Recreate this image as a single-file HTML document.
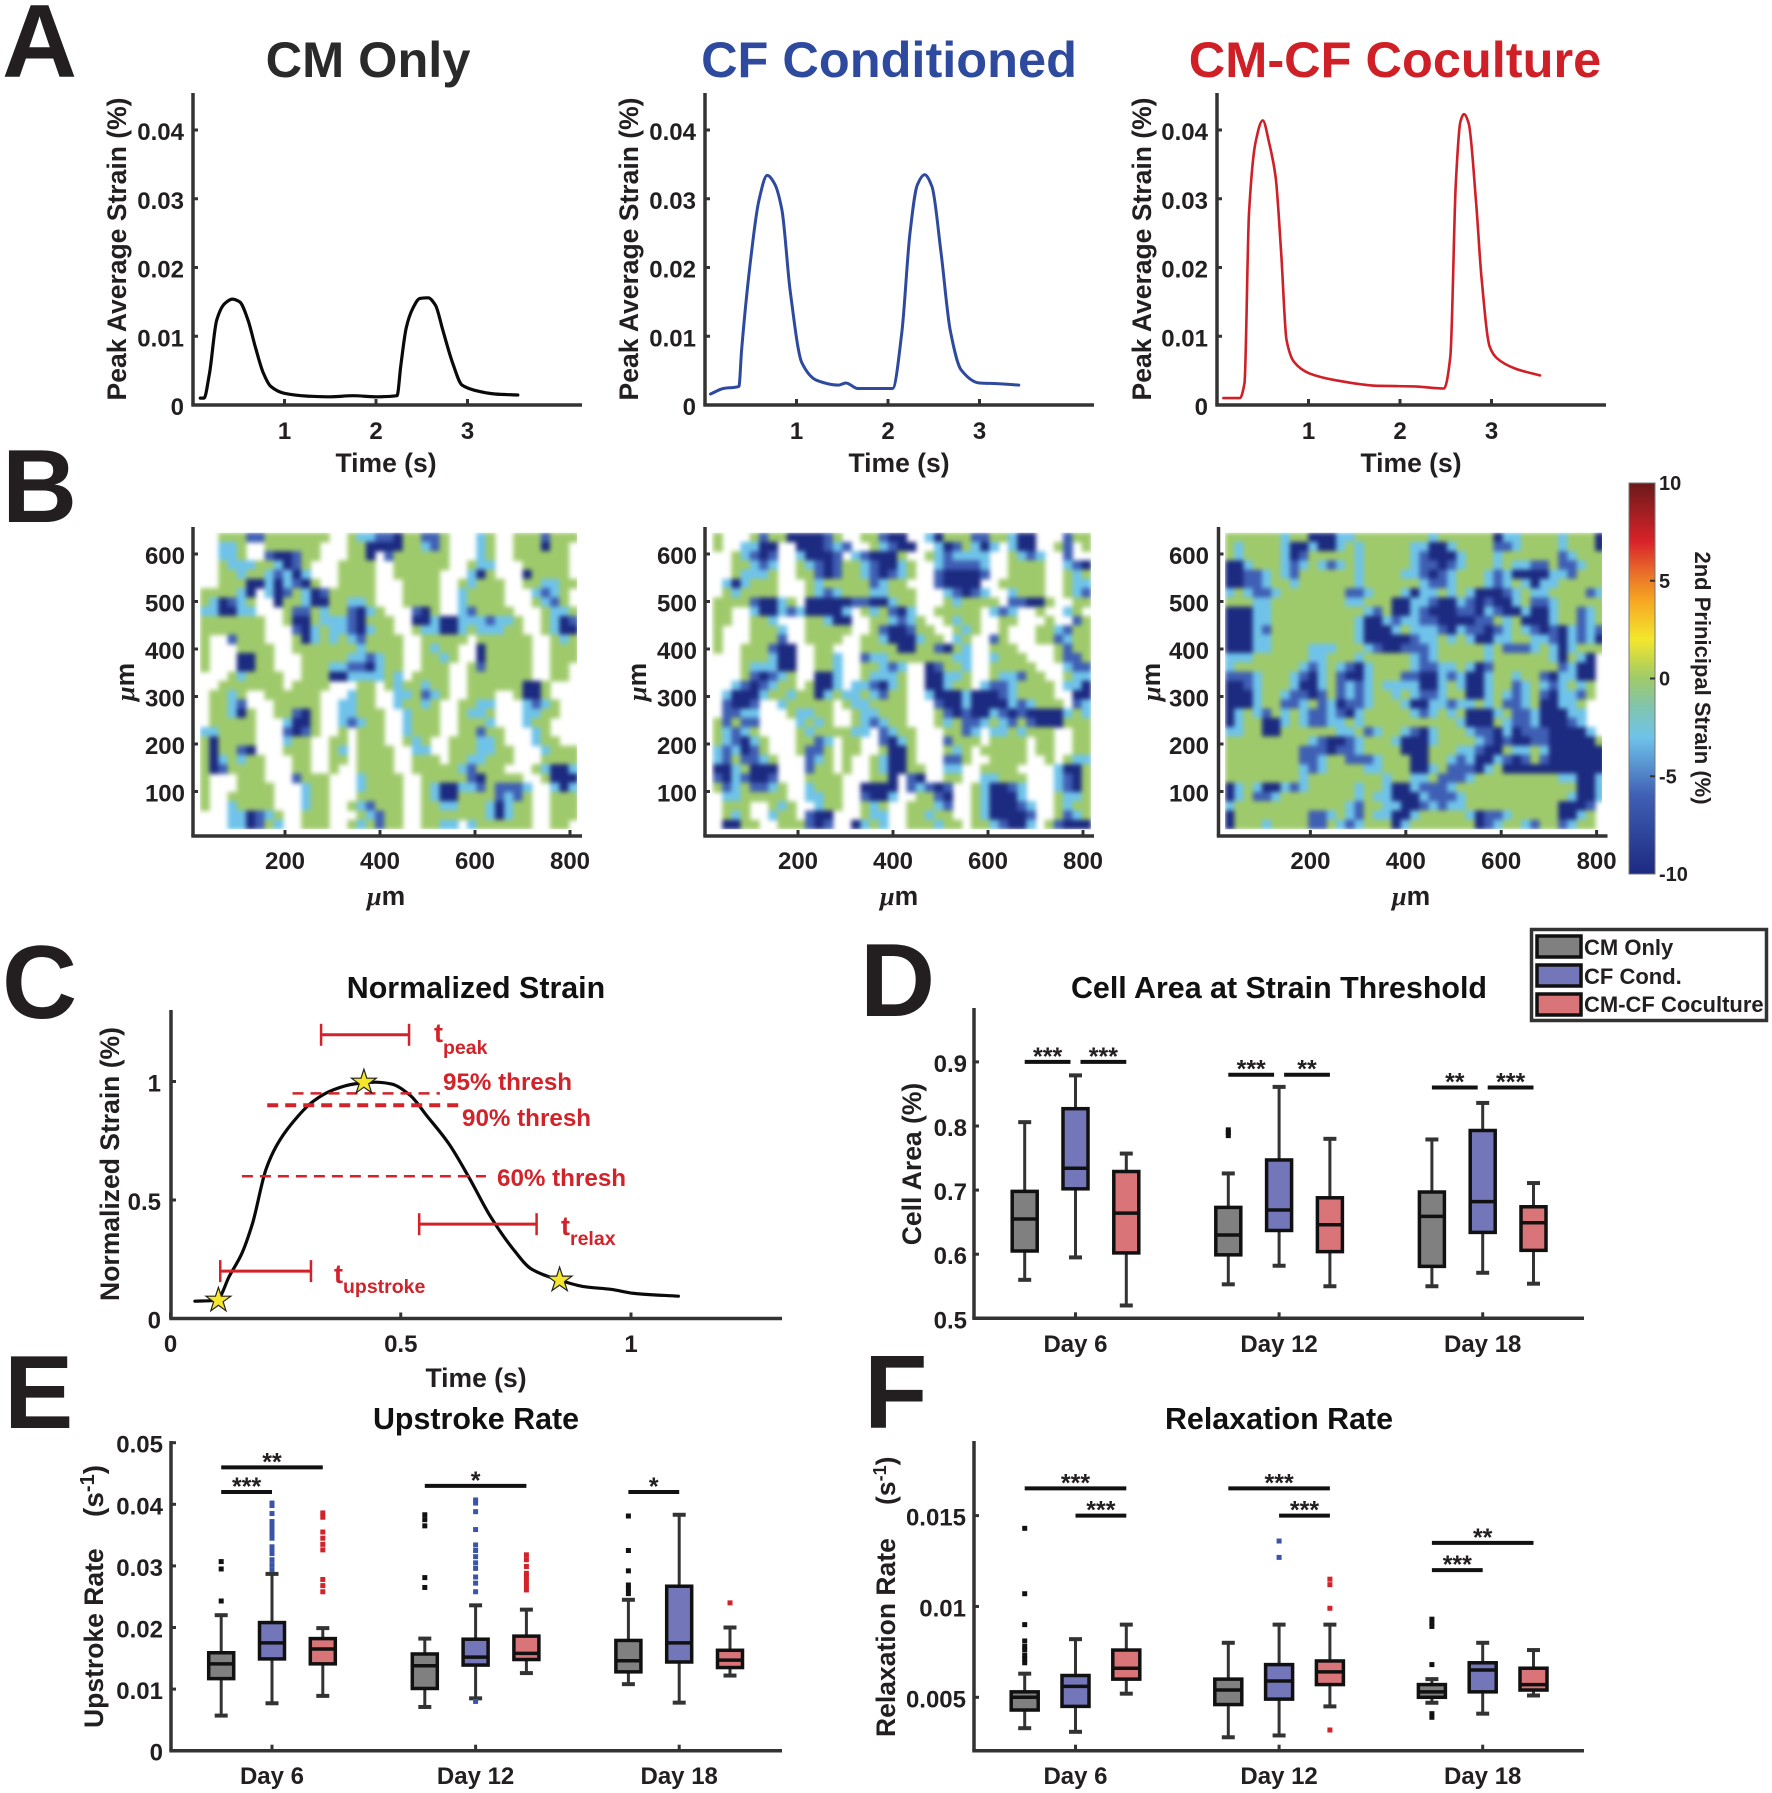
<!DOCTYPE html>
<html lang="en">
<head>
<meta charset="utf-8">
<title>Strain figure panels</title>
<style>
html,body{margin:0;padding:0;background:#fff}
svg{display:block}
text{font-family:"Liberation Sans",sans-serif;font-weight:bold;fill:#231f20}
.letter{font-size:104px}
.title{font-size:50.5px}
.sub{font-size:30.4px;fill:#111}
.axt{font-size:26.5px}
.red{fill:#d2232a;font-size:24.2px}
.redt{fill:#d2232a;font-size:27px}
.redsub{fill:#d2232a;font-size:19.5px}
.mu{font-family:"Liberation Serif",serif;font-style:italic}
</style>
</head>
<body>
<svg id="fig" xmlns="http://www.w3.org/2000/svg" width="1772" height="1793" viewBox="0 0 1772 1793">
<defs>
<linearGradient id="cbGrad" x1="0" y1="1" x2="0" y2="0"></linearGradient>
<filter id="soft" x="-3%" y="-3%" width="106%" height="106%" color-interpolation-filters="sRGB"><feGaussianBlur stdDeviation="2.3"/></filter>
<clipPath id="clipB1"><rect x="200" y="532.7" width="377" height="296.5"/></clipPath>
<clipPath id="clipB2"><rect x="711.5" y="532.7" width="379.5" height="296.5"/></clipPath>
<clipPath id="clipB3"><rect x="1225" y="532.7" width="377" height="296.5"/></clipPath>
</defs>
<rect width="1772" height="1793" fill="#fff"/>

<text class="letter" x="2" y="77">A</text>
<text class="letter" x="2" y="522">B</text>
<text class="letter" x="2" y="1018">C</text>
<text class="letter" x="860" y="1016">D</text>
<text class="letter" x="4" y="1428">E</text>
<text class="letter" x="864" y="1428">F</text>

<text class="title" x="368" y="77" text-anchor="middle" style="fill:#2a2a2a">CM Only</text>
<text class="title" x="889" y="77" text-anchor="middle" style="fill:#2e4a9e">CF Conditioned</text>
<text class="title" x="1395" y="77" text-anchor="middle" style="fill:#cf2027">CM-CF Coculture</text>

<text class="axt" transform="translate(126,249) rotate(-90)" text-anchor="middle">Peak Average Strain (%)</text>
<text class="axt" transform="translate(638,249) rotate(-90)" text-anchor="middle">Peak Average Strain (%)</text>
<text class="axt" transform="translate(1151,249) rotate(-90)" text-anchor="middle">Peak Average Strain (%)</text>
<text class="axt" x="386" y="472" text-anchor="middle">Time (s)</text>
<text class="axt" x="899" y="472" text-anchor="middle">Time (s)</text>
<text class="axt" x="1411" y="472" text-anchor="middle">Time (s)</text>

<text class="axt" transform="translate(134,682) rotate(-90)" text-anchor="middle"><tspan class="mu">μ</tspan>m</text>
<text class="axt" transform="translate(646,682) rotate(-90)" text-anchor="middle"><tspan class="mu">μ</tspan>m</text>
<text class="axt" transform="translate(1160,682) rotate(-90)" text-anchor="middle"><tspan class="mu">μ</tspan>m</text>
<text class="axt" x="386" y="905" text-anchor="middle"><tspan class="mu">μ</tspan>m</text>
<text class="axt" x="899" y="905" text-anchor="middle"><tspan class="mu">μ</tspan>m</text>
<text class="axt" x="1411" y="905" text-anchor="middle"><tspan class="mu">μ</tspan>m</text>
<text transform="translate(1695,678) rotate(90)" text-anchor="middle" style="font-size:22px">2nd Prinicipal Strain (%)</text>

<text class="sub" x="476" y="998" text-anchor="middle">Normalized Strain</text>
<text class="axt" transform="translate(119,1164) rotate(-90)" text-anchor="middle">Normalized Strain (%)</text>
<text class="axt" x="476" y="1387" text-anchor="middle">Time (s)</text>
<text class="red" x="443" y="1090">95% thresh</text>
<text class="red" x="462" y="1126">90% thresh</text>
<text class="red" x="497" y="1186">60% thresh</text>
<text class="redt" x="434" y="1042">t<tspan class="redsub" dy="12">peak</tspan></text>
<text class="redt" x="561" y="1235">t<tspan class="redsub" dy="10">relax</tspan></text>
<text class="redt" x="334" y="1283">t<tspan class="redsub" dy="10">upstroke</tspan></text>

<text class="sub" x="1279" y="998" text-anchor="middle">Cell Area at Strain Threshold</text>
<text class="axt" transform="translate(921,1164) rotate(-90)" text-anchor="middle">Cell Area (%)</text>

<text class="sub" x="476" y="1429" text-anchor="middle">Upstroke Rate</text>
<text class="axt" transform="translate(103,1728) rotate(-90)">Upstroke Rate</text>
<text class="axt" transform="translate(103,1517) rotate(-90)" style="font-size:28px">(s<tspan dy="-9" style="font-size:20px">-1</tspan><tspan dy="9">)</tspan></text>

<text class="sub" x="1279" y="1429" text-anchor="middle">Relaxation Rate</text>
<text class="axt" transform="translate(895,1737) rotate(-90)">Relaxation Rate</text>
<text class="axt" transform="translate(895,1505) rotate(-90)">(s<tspan dy="-9" style="font-size:18px">-1</tspan><tspan dy="9">)</tspan></text>

<g>
<rect x="1531.5" y="929.5" width="235" height="91" fill="#fff" stroke="#333" stroke-width="3.5"/>
<rect x="1537" y="936" width="44" height="21" fill="#808080" stroke="#111" stroke-width="3.5"/>
<rect x="1537" y="965" width="44" height="21" fill="#7376b8" stroke="#111" stroke-width="3.5"/>
<rect x="1537" y="994" width="44" height="21" fill="#d97578" stroke="#111" stroke-width="3.5"/>
<text x="1584" y="955" style="font-size:22px">CM Only</text>
<text x="1584" y="984" style="font-size:22px">CF Cond.</text>
<text x="1584" y="1012" style="font-size:22px">CM-CF Coculture</text>
</g>
<g id="plots"></g>
</svg>

<script>
/* ---------- Panel A data ---------- */
const a1Time=[.08,.12,.18,.26,.35,.43,.51,.60,.68,.77,.85,1,1.25,1.5,1.75,2,2.23,2.27,2.33,2.4,2.48,2.57,2.65,2.73,2.84,2.94,3.09,3.3,3.55];
const a1Strain=[.001,.001,.0046,.0124,.0148,.0154,.015,.0124,.0085,.0046,.0027,.0017,.0013,.0012,.00135,.0012,.00135,.0056,.0112,.014,.0155,.0156,.0145,.0109,.006,.0029,.0021,.0016,.00145];
const a2Time=[.06,.2,.37,.4,.49,.59,.68,.76,.84,.93,1.06,1.22,1.46,1.54,1.67,1.83,2.05,2.15,2.24,2.32,2.4,2.48,2.58,2.68,2.8,3,3.21,3.43];
const a2Strain=[.0016,.0024,.0027,.008,.0201,.0298,.0334,.0322,.0284,.0167,.0061,.0036,.0029,.0032,.0024,.0024,.0024,.0104,.025,.032,.0335,.0318,.0221,.0109,.0051,.0032,.0031,.0029];
const a3Time=[.07,.25,.3,.35,.42,.5,.57,.64,.7,.76,.84,1.01,1.3,1.75,2.16,2.48,2.55,2.61,2.66,2.7,2.75,2.83,2.89,2.98,3.06,3.26,3.53];
const a3Strain=[.001,.001,.0032,.0279,.0381,.0414,.0381,.0332,.0225,.0095,.0063,.0046,.0036,.0028,.0027,.0024,.007,.0322,.0412,.0423,.041,.0298,.0187,.0085,.0068,.0053,.0043];
const aYTicks=[0,.01,.02,.03,.04];
const aYLabels=['0','0.01','0.02','0.03','0.04'];
const aXTicks=[1,2,3];

/* ---------- Panel B data: rows top to bottom; . = no data, g = 0, l = -3, b = -6, d = -10 ---------- */
const cellLevels={g:0,l:-3,b:-6,d:-10};
const bXTicks=[200,400,600,800];
const bYTicks=[100,200,300,400,500,600];
const heatCM=[
"..gggbbggggggg..gllbbdggbbg...lg..gggbggg",
"..llg..gggggg...ggddddgglbg...lg..gggdgg.",
"..llg..bddbgg...ggd.bgggggg...lg..gggggg.",
"..glllggldbg...gggg..gggggg..gll...ggggg.",
"..gglgglbldl...gggg..ggggg...ldg...dgggg.",
"..gggddldlbdg..gggg...gggg..glggg..ggllgg",
"ggggld.ldbgldbggggg...gggg..lgggg...lblg.",
"gldblg..dgglddggllg...gggg..lgggg...glbg.",
"llddll...gbbglggbdlg...bdg..lbgggg...gllg",
"ggggggg..gddglllbdggg..ddlddlllbllg..gldb",
"ggggggg...bdlgllbdlgg..gllddlglllgg..gldd",
"g..bggg...gdlglglbgggg..ggggg.gggggg..glg",
"g...gggg..ggggggglgggg..glgg..dggggg..ggg",
"g...ddgg...gggggllblgg..gglg..dggggg..ggg",
"g...ddgg...gggllbbdlgg..ggg..gbggggg..gg.",
"...glgggg..gggddllllgl.gggg..ggggggg..gg.",
"..ggggggg.gggg...gg.glgglgg..ggggggddg...",
".gglg..gggggg...lgg..llgblg..ggg..gddg...",
".gglb...ggggg..llgg..lgglg..ggll...lblg..",
".ggldg..ggbdg..llggg..lggg..gllg...llgg..",
".ggggg...lddg..lblgg..lggg..gggl...lgg...",
"llgggg...bdbg..g.ggg..lggg..ggbgg...lg...",
"gdgggg...lgg..gg.ggg..glg..gggllg...lgg..",
"gdggbd...ggg..gl.gggg..ll..gggllgg...lggg",
"gdlglgg...gg..gg.gggg..ggg.ggllggg...gggg",
"gdbgggg...gg..g..gggg..ggggglbggg...glddl",
"g...ggg...bggg...lgggg..gggggbdgggg..gddd",
"g...gggg...lgg...lgggg..glddllbgbbbl..ldl",
"g..ggggg...lgg...ggggg..glddggggblbg..ggg",
"g..lgggg...lgg..glbggg..ggllgggldlgg..ggg",
"...lldblg..ggg...glbgg..gggggggldlgg..ggg",
"...lldbgl..ggg..glgbgg..ggll.lgggggg..gg."];
const heatCF=[
"g...gbggddddbg..ggbdd..ldgggbbggldd...bgg",
"g..lldd..dddblb..glbdd..ldbgldl.ldd..gb.g",
"..glbdb..ldddb.lbdddg..glbllll..glbl..b..",
"..gglbl..glbdbgglbddlg..lbbbbl..gggg..lbd",
"..glllg..ggbdbgglbdblg..bddddb..gggg..glg",
".ldlggg...glgggggblgg...bdddd..ggggg..gll",
".glgggg...glblgggllggg...lbdbl..lggg..glb",
"ggggbddlg.dddddbbddlgg...glgggg.bbddg..gg",
"gg..lddlblddddl.glgbdl..ggggg.lbl..g..lg",
"gg..ggl...ggldd..gglblg..glgg..gg...g..bg",
"g...gggl..ggggg..gbddbgg..glg..g...gglbgg",
"g...gggb..gggg..ggldddlgg.lg..bg...ggblgg",
"g..gggbdd..gg...ggggddggbdgl..ggg....gbgg",
"...gggldd..ggl..bllgggggggll..lggg...gbbg",
"...gllldd..ggl..gglbl..dbggl..ggggg...lbb",
"...gbdblg..ddl..glllg..ddllg..gllbgg..gll",
"..lbdblgg.gddl.llbdlg..ddlgg.lbblgggg.lld",
".ldddlgglggdlgllglbgg..ldddldddblgggg..dd",
".bddb..lggggg.gllgggg...bddlddddlblggg.bl",
".bbll...gllgg..gllggg...gbdbddlbdbddddlgl",
"gbgbb....lglg..glblgg...glgbblglbgbdddggg",
"glblg....glggggll.blgg...ggbl.llglggg..gg",
"glbdlg...ggbl.gg..bdlg...bggg.gggg.gg..gg",
"lbldbg...gbbg.gg..gddg...glg.ggggg.gg..gg",
"lbgbblg...blg.g..glddg...bbg..gggg..g.gll",
"ddlgddd...bgg.g..glddgg..ll..gggg....lddg",
"bdlbddb...gggg...ggd.bd..gg..llggg...lbdg",
"gblgbblg..lggg..dddd.blbdb..glddbl...lbdg",
".llggggg..llgg..bddl..ggbd..gldddl...gllg",
".ggg..glg..lgg..glg..ggglb..gldddbl..glgg",
".glg..lgg.bdd...gll..gglgg..glddddb..gblg",
".ddgg..gggbdb..dlgl..ggglgg.gglbddl.gbddd"];
const heatCo=[
"gggggglggdddll"+"gggggggg"+"l"+"gggggg"+"d"+"ll"+"gggg"+"l"+"ggg"+"d",
"glgggg"+"l"+"dd"+"l"+"dd"+"l"+"g"+"l"+"ggggg"+"ll"+"dd"+"l"+"gggg"+"bb"+"l"+"gggg"+"l"+"ggg"+"d",
"glgggg"+"l"+"db"+"ggggg"+"l"+"ggggg"+"l"+"b"+"ddd"+"l"+"ggg"+"l"+"gg"+"gggg"+"b"+"l"+"ggg",
"dd"+"l"+"ggg"+"l"+"b"+"l"+"g"+"l"+"b"+"l"+"g"+"l"+"ggggg"+"l"+"bb"+"d"+"b"+"l"+"ggg"+"l"+"g"+"ll"+"bb"+"g"+"bb"+"l"+"gg",
"dd"+"bb"+"l"+"g"+"l"+"b"+"ggggg"+"g"+"l"+"gggg"+"ll"+"b"+"d"+"b"+"l"+"ggg"+"l"+"b"+"l"+"dddd"+"l"+"l"+"b"+"ggg",
"dd"+"bb"+"l"+"gg"+"l"+"gggggg"+"l"+"gggggg"+"l"+"bb"+"l"+"ggg"+"l"+"b"+"l"+"g"+"l"+"d"+"l"+"l"+"ggggg",
"lg"+"l"+"bb"+"l"+"ggggggg"+"bb"+"l"+"ggg"+"l"+"d"+"ll"+"g"+"l"+"g"+"l"+"ddd"+"b"+"l"+"g"+"ll"+"gggg"+"b"+"l",
"ggg"+"ll"+"gggggggg"+"ll"+"ggg"+"dd"+"ll"+"b"+"dd"+"l"+"b"+"d"+"b"+"dd"+"l"+"g"+"bb"+"l"+"ggggg",
"ddd"+"ll"+"gggggggggg"+"l"+"b"+"g"+"dd"+"l"+"b"+"ddd"+"bb"+"d"+"l"+"b"+"dd"+"l"+"dd"+"l"+"gg"+"b"+"l"+"g",
"ddd"+"ll"+"ggggggggg"+"l"+"dd"+"l"+"b"+"ll"+"bb"+"dddd"+"bb"+"g"+"l"+"g"+"ddd"+"l"+"gg"+"b"+"l"+"g",
"ddd"+"l"+"b"+"ggggggggg"+"l"+"ddd"+"l"+"g"+"lll"+"b"+"d"+"l"+"bb"+"d"+"b"+"l"+"g"+"l"+"b"+"d"+"b"+"d"+"l"+"b"+"l"+"b",
"ddd"+"ll"+"ggggggggg"+"l"+"ddddd"+"b"+"ll"+"g"+"l"+"g"+"l"+"dd"+"ll"+"gg"+"ll"+"b"+"d"+"l"+"b"+"l"+"d",
"ddd"+"ll"+"gggg"+"lll"+"ggg"+"l"+"b"+"dd"+"bbb"+"l"+"ggggg"+"l"+"g"+"bbb"+"l"+"g"+"l"+"d"+"l"+"ggg",
"lll"+"gggggg"+"ll"+"ggg"+"l"+"ggggg"+"l"+"b"+"l"+"ggggg"+"l"+"gggggg"+"l"+"d"+"g"+"l"+"d"+".",
"lg"+"gggggg"+"l"+"b"+"l"+"g"+"l"+"b"+"d"+"l"+"gggg"+"l"+"bb"+"ll"+"g"+"l"+"d"+"b"+"ggggggg"+"b"+"l"+"dd"+".",
"bbb"+"l"+"ggg"+"l"+"b"+"d"+"l"+"g"+"b"+"dd"+"l"+"ggg"+"bb"+"dd"+"l"+"b"+"l"+"dd"+"l"+"gg"+"l"+"gg"+"b"+"d"+"ll"+"dd"+".",
"ddb"+"l"+"ggg"+"l"+"dd"+"l"+"g"+"b"+"l"+"b"+"l"+"g"+"llll"+"dd"+"l"+"g"+"l"+"dd"+"l"+"gg"+"b"+"l"+"g"+"l"+"b"+"l"+"g"+"l"+"g"+".",
"ddd"+"l"+"gg"+"l"+"bb"+"d"+"b"+"g"+"b"+"l"+"b"+"l"+"gg"+"l"+"g"+"l"+"bb"+"l"+"gg"+"dd"+"l"+"g"+"l"+"b"+"l"+"g"+"b"+"d"+"ll"+"b"+"g"+".",
"ddd"+"l"+"gg"+"bb"+"l"+"g"+"b"+"l"+"d"+"bb"+"l"+"ggg"+"l"+"dd"+"ll"+"b"+"ll"+"g"+"l"+"g"+"bb"+"l"+"g"+"dd"+"ll"+"g"+"..",
"dlglbglgl"+"bb"+"l"+"b"+"d"+"l"+"ggggg"+"l"+"b"+"l"+"g"+"l"+"g"+"ddd"+"l"+"g"+"bb"+"l"+"ddd"+"ll"+"..",
"dl"+"gg"+"dd"+"l"+"g"+"l"+"bb"+"ll"+"g"+"l"+"gggggggggg"+"l"+"ddd"+"g"+"l"+"bb"+"l"+"ddd"+"b"+"l"+"..",
"ll"+"gg"+"dd"+"gggggg"+"ll"+"g"+"b"+"l"+"gg"+"l"+"b"+"d"+"l"+"ggg"+"l"+"bb"+"d"+"l"+"d"+"bbb"+"dddd"+"l"+".",
"ggggggggg"+"l"+"b"+"dd"+"b"+"l"+"ggg"+"l"+"ddd"+"l"+"gggg"+"l"+"b"+"d"+"b"+"dd"+"bb"+"d"+"dddd"+"g",
"gggggggg"+"bbb"+"d"+"bb"+"l"+"gggg"+"ddd"+"ggg"+"ll"+"b"+"dd"+"g"+"ll"+"g"+"l"+"dddddd",
"gggggggg"+"bb"+"l"+"gg"+"bbb"+"l"+"ggg"+"dd"+"gg"+"l"+"b"+"l"+"dd"+"l"+"b"+"d"+"b"+"g"+"b"+"dddddd",
"gggggggg"+"l"+"b"+"l"+"gggg"+"ll"+"ggg"+"dd"+"l"+"g"+"bb"+"b"+"d"+"l"+"g"+"ddddddddddd",
"gggggggg"+"l"+"gggggggg"+"l"+"gg"+"ll"+"g"+"bb"+"b"+"l"+"ggggggggg"+"ll"+"dd"+"l",
"d"+"l"+"g"+"l"+"dd"+"l"+"b"+"l"+"ggggg"+"l"+"gg"+"l"+"dd"+"l"+"bbb"+"l"+"ggggggggggggg"+"dd"+"l",
"d"+"l"+"g"+"bb"+"l"+"gggggggg"+"l"+"g"+"ll"+"ddd"+"l"+"bbb"+"l"+"ggggggggggg"+"l"+"dd"+"l",
"l"+"gggggggggggg"+"l"+"b"+"gg"+"ll"+"dd"+"b"+"l"+"b"+"ll"+"gggggggggg"+"ddd"+"b"+".",
"d"+"gggggggg"+"bb"+"l"+"g"+"l"+"b"+"g"+"ll"+"dd"+"l"+"ggggg"+"l"+"d"+"bb"+"l"+"ggggg"+"dd"+"l"+"g"+".",
"d"+"ggg"+"l"+"gggg"+"bb"+"g"+"l"+"b"+"l"+"ggg"+"d"+"l"+"ggggggg"+"d"+"b"+"l"+"gg"+"l"+"b"+"gg"+"b"+"l"+"gg"+"."];

/* ---------- Panel C data ---------- */
const cTime=[.053,.087,.104,.127,.155,.178,.207,.229,.261,.309,.354,.4,.445,.479,.519,.558,.604,.649,.695,.74,.785,.845,.899,.956,1.007,1.103];
const cStrain=[.073,.075,.085,.176,.275,.401,.627,.725,.817,.915,.965,.99,.997,.99,.944,.852,.739,.592,.43,.303,.207,.162,.134,.123,.106,.094];
const cStarTime=[.104,.42,.845];
const cStarStrain=[.077,.997,.162];
const cXTicks=[0,.5,1];
const cXLabels=['0','0.5','1'];
const cYTicks=[0,.5,1];
const cYLabels=['0','0.5','1'];
const threshLevels=[.95,.9,.6];
const threshStart=[.265,.21,.155];
const threshEnd=[.585,.63,.685];
const threshWidths=[2.5,4,2.5];
const spanStart=[.327,.108,.54];
const spanEnd=[.518,.305,.795];
const spanLevel=[1.197,.2,.398];

/* ---------- Box plot data: [low whisker, Q1, median, Q3, high whisker], order CM / CF / Co per day ---------- */
const days=['Day 6','Day 12','Day 18'];
const groupFill=['#808080','#7376b8','#d97578'];
const groupDot=['#111111','#3a55a8','#d2232a'];
const areaBoxes=[
[[.56,.605,.655,.698,.806],[.595,.702,.734,.827,.879],[.52,.602,.664,.729,.757]],
[[.553,.599,.63,.673,.726],[.582,.637,.669,.747,.861],[.55,.604,.646,.688,.78]],
[[.55,.581,.659,.697,.779],[.571,.634,.682,.793,.836],[.554,.606,.649,.674,.711]]];
const areaOut=[[[],[],[]],[[.785,.79,.794],[],[]],[[],[],[]]];
const areaSig=[[0,0,1,.9,'***'],[0,1,2,.9,'***'],[1,0,1,.88,'***'],[1,1,2,.88,'**'],[2,0,1,.86,'**'],[2,1,2,.86,'***']];
const areaYTicks=[.5,.6,.7,.8,.9];
const areaYLabels=['0.5','0.6','0.7','0.8','0.9'];

const upBoxes=[
[[.0057,.0117,.0141,.0159,.022],[.0077,.0149,.0175,.0208,.0287],[.0089,.0141,.0165,.0182,.0199]],
[[.0071,.0101,.0138,.0157,.0182],[.0085,.0139,.0152,.0181,.0236],[.0126,.0148,.0158,.0186,.0229]],
[[.0108,.0128,.0146,.0179,.0245],[.0078,.0144,.0175,.0267,.0383],[.0122,.0135,.0147,.0163,.02]]];
const upOut=[
[[.0307,.0295,.0243],[.0402,.0398,.0385,.0372,.0365,.0358,.0352,.0345,.0331,.0325,.032,.031,.0302,.0294],[.0386,.0379,.0355,.0345,.0335,.0326,.0278,.0268,.0258]],
[[.0383,.0375,.0365,.0281,.0265],[.0407,.0402,.0388,.0359,.0334,.0325,.0315,.0305,.0296,.0282,.0272,.0258,.008],[.0318,.031,.0299,.0288,.0282,.0275,.0268,.0261]],
[[.0381,.0325,.0292,.0269,.0262,.0255],[],[.024]]];
const upSig=[[0,0,2,.046,'**'],[0,0,1,.042,'***'],[1,0,2,.043,'*'],[2,0,1,.042,'*']];
const upYTicks=[0,.01,.02,.03,.04,.05];
const upYLabels=['0','0.01','0.02','0.03','0.04','0.05'];

const relaxBoxes=[
[[.0033,.0043,.005,.0053,.0063],[.0031,.0045,.0056,.0062,.0082],[.0052,.006,.0066,.0076,.009]],
[[.0028,.0046,.0054,.006,.008],[.0029,.0049,.0059,.0068,.009],[.0045,.0057,.0064,.007,.009]],
[[.0047,.005,.0053,.0057,.006],[.0041,.0053,.0065,.0069,.008],[.0051,.0054,.0057,.0066,.0076]]];
const relaxOut=[
[[.0143,.0107,.009,.0081,.0078,.0076,.0073,.0071,.0069],[],[]],
[[],[.0136,.0127],[.0115,.0112,.0099,.0032]],
[[.0093,.0091,.0089,.0068,.0041,.0039],[],[]]];
const relaxSig=[[0,0,2,.0165,'***'],[0,1,2,.015,'***'],[1,0,2,.0165,'***'],[1,1,2,.015,'***'],[2,0,2,.0135,'**'],[2,0,1,.012,'***']];
const relaxYTicks=[.005,.01,.015];
const relaxYLabels=['0.005','0.01','0.015'];

/* ---------- Colour bar ---------- */
const cbValues=[-10,-6,-3,-1.5,0,1,2,4,5.5,7,10];
const cbColors=['#1c2a80','#3f5fb4','#6fc3ea','#80c4b0','#9fca6b','#c8d84a','#f3e72c','#f6a623','#e86a2a','#d8232a','#6b1a1a'];
const cbTicks=[-10,-5,0,5,10];

/* ---------- Drawing ---------- */
const NS='http://www.w3.org/2000/svg';
const root=document.getElementById('plots');
function mk(parent,tag,attrs,name){
  const el=document.createElementNS(NS,tag);
  for(const k in attrs){el.setAttribute(k,attrs[k]);}
  
  
  parent.appendChild(el);
  return el;
}
function label(parent,x,y,s,anchor,size,name){
  const t=mk(parent,'text',{x:x,y:y,'text-anchor':anchor,style:'font-size:'+size+'px'},name);
  t.textContent=s;
  return t;
}
function line(parent,x1,y1,x2,y2,color,w,name,dash){
  const a={x1:x1,y1:y1,x2:x2,y2:y2,stroke:color,'stroke-width':w};
  if(dash){a['stroke-dasharray']=dash;}
  return mk(parent,'line',a,name);
}
function axes(g,o){
  line(g,o.x0,o.yTop,o.x0,o.y0,'#333',3.5,'y-axis-line');
  line(g,o.x0-1.7,o.y0,o.xEnd,o.y0,'#333',3.5,'x-axis-line');
  o.yTicks.forEach(function(v,i){
    line(g,o.x0,o.y(v),o.x0+5,o.y(v),'#333',3,'y-tick');
    label(g,o.yLabelRight,o.y(v)+10,o.yLabels[i],'end',o.size||24,'y-tick-label');
  });
  o.xTicks.forEach(function(v,i){
    line(g,o.x(v),o.y0,o.x(v),o.y0-6,'#333',3,'x-tick');
    label(g,o.x(v),o.xLabelY,o.xLabels[i],'middle',o.size||24,'x-tick-label');
  });
}
/* monotone cubic through the data points */
function curve(g,xs,ys,x,y,color,w,name){
  const px=xs.map(x),py=ys.map(y),n=px.length,d=[],m=[];
  for(let i=0;i<n-1;i++){d.push((py[i+1]-py[i])/(px[i+1]-px[i]));}
  m.push(d[0]);
  for(let i=1;i<n-1;i++){
    if(d[i-1]*d[i]<=0){m.push(0);}
    else{
      const a=px[i]-px[i-1],b=px[i+1]-px[i];
      m.push(3*(a+b)/((2*b+a)/d[i-1]+(b+2*a)/d[i]));
    }
  }
  m.push(d[n-2]);
  let p='M'+px[0].toFixed(1)+' '+py[0].toFixed(1);
  for(let i=0;i<n-1;i++){
    const h=(px[i+1]-px[i])/3;
    p+=' C'+(px[i]+h).toFixed(1)+' '+(py[i]+m[i]*h).toFixed(1)+' '+(px[i+1]-h).toFixed(1)+' '+(py[i+1]-m[i+1]*h).toFixed(1)+' '+px[i+1].toFixed(1)+' '+py[i+1].toFixed(1);
  }
  return mk(g,'path',{d:p,fill:'none',stroke:color,'stroke-width':w,'stroke-linejoin':'round','stroke-linecap':'round'},name);
}
function lerpColor(v){
  let i=0;
  while(i<cbValues.length-2&&v>cbValues[i+1]){i++;}
  const f=Math.max(0,Math.min(1,(v-cbValues[i])/(cbValues[i+1]-cbValues[i])));
  const p=function(h,s){return parseInt(h.substr(s,2),16);};
  const a=cbColors[i],b=cbColors[i+1];
  return 'rgb('+[1,3,5].map(function(s){return Math.round(p(a,s)+(p(b,s)-p(a,s))*f);}).join(',')+')';
}

/* Panel A */
const aY=function(v){return 405-6875*v;};
[{x0:193,t:a1Time,s:a1Strain,c:'#0a0a0a',w:3.2,lab:184,n:'a1'},
 {x0:705,t:a2Time,s:a2Strain,c:'#2e4a9e',w:3,lab:696,n:'a2'},
 {x0:1217,t:a3Time,s:a3Strain,c:'#cf2027',w:2.6,lab:1208,n:'a3'}].forEach(function(p){
  const g=mk(root,'g',{},'panel-'+p.n);
  const x=function(t){return p.x0+91.5*t;};
  axes(g,{x0:p.x0,y0:405,yTop:93,xEnd:p.x0+389,x:x,y:aY,xTicks:aXTicks,xLabels:aXTicks.map(String),yTicks:aYTicks,yLabels:aYLabels,yLabelRight:p.lab,xLabelY:439});
  curve(g,p.t,p.s,x,aY,p.c,p.w,'strain-trace-'+p.n);
});

/* Panel B */
const bY=function(v){return 839-.475*v;};
[{x0:190,ax:193,rows:heatCM,k:.475,clip:'clipB1',lab:185,n:'b1'},
 {x0:703,ax:705,rows:heatCF,k:.475,clip:'clipB2',lab:697,n:'b2'},
 {x0:1215,ax:1218.5,rows:heatCo,k:.477,clip:'clipB3',lab:1209,n:'b3'}].forEach(function(p){
  const g=mk(root,'g',{},'panel-'+p.n);
  const x=function(v){return p.x0+p.k*v;};
  const clip=mk(g,'g',{'clip-path':'url(#'+p.clip+')'},'heatmap-'+p.n);
  const soft=mk(clip,'g',{filter:'url(#soft)'},'heatmap-cells-'+p.n);
  const um=19.4,umY=19.5;
  p.rows.forEach(function(row,r){
    for(let c=0;c<row.length;c++){
      const lv=cellLevels[row[c]];
      if(lv===undefined){continue;}
      mk(soft,'rect',{x:x(21+c*um).toFixed(1),y:bY(645-r*umY).toFixed(1),width:(p.k*um+.6).toFixed(2),height:(.475*umY+.6).toFixed(2),fill:lerpColor(lv)},'heat-cell');
    }
  });
  axes(g,{x0:p.ax,y0:836,yTop:527,xEnd:p.ax+389,x:x,y:bY,xTicks:bXTicks,xLabels:bXTicks.map(String),yTicks:bYTicks,yLabels:bYTicks.map(String),yLabelRight:p.lab,xLabelY:869});
});

/* Colour bar */
const grad=document.getElementById('cbGrad');
cbValues.forEach(function(v,i){
  const s=document.createElementNS(NS,'stop');
  s.setAttribute('offset',((v+10)/20*100)+'%');
  s.setAttribute('stop-color',cbColors[i]);
  grad.appendChild(s);
});
const cbG=mk(root,'g',{},'colorbar');
const cbY=function(v){return 678.5-19.55*v;};
mk(cbG,'rect',{x:1629,y:cbY(10),width:26,height:cbY(-10)-cbY(10),fill:'url(#cbGrad)',stroke:'#777','stroke-width':1},'colorbar-ramp');
cbTicks.forEach(function(v){
  if(Math.abs(v)<10){line(cbG,1650,cbY(v),1655,cbY(v),'#333',2,'colorbar-tick');}
  label(cbG,1659,cbY(v)+7,String(v),'start',20,'colorbar-tick-label');
});

/* Panel C */
(function(){
  const g=mk(root,'g',{},'panel-c');
  const x=function(t){return 170.5+460.5*t;};
  const y=function(v){return 1318.5-237*v;};
  axes(g,{x0:171,y0:1318.5,yTop:1010,xEnd:782,x:x,y:y,xTicks:cXTicks,xLabels:cXLabels,yTicks:cYTicks,yLabels:cYLabels,yLabelRight:161,xLabelY:1352});
  curve(g,cTime,cStrain,x,y,'#0a0a0a',3.2,'normalized-strain-trace');
  threshLevels.forEach(function(v,i){
    line(g,x(threshStart[i]),y(v),x(threshEnd[i]),y(v),'#d2232a',threshWidths[i],'threshold-line','11 7');
  });
  spanStart.forEach(function(s,i){
    const yy=y(spanLevel[i]);
    line(g,x(s),yy,x(spanEnd[i]),yy,'#d2232a',3,'time-span-bar');
    line(g,x(s),yy-11,x(s),yy+11,'#d2232a',2.5,'time-span-cap');
    line(g,x(spanEnd[i]),yy-11,x(spanEnd[i]),yy+11,'#d2232a',2.5,'time-span-cap');
  });
  cStarTime.forEach(function(t,i){
    const cx=x(t),cy=y(cStarStrain[i]);
    let pts='';
    for(let k=0;k<10;k++){
      const r=k%2?5:13,a=-Math.PI/2+k*Math.PI/5;
      pts+=(cx+r*Math.cos(a)).toFixed(1)+','+(cy+r*Math.sin(a)).toFixed(1)+' ';
    }
    mk(g,'polygon',{points:pts,fill:'#f6e62a',stroke:'#222','stroke-width':1.2},'star-marker');
  });
})();

/* Panels D, E, F */
function boxPanel(o){
  const g=mk(root,'g',{},o.name);
  const xDay=function(d){return o.xStart+203.6*d;};
  const xGroup=function(d,k){return xDay(d)+(k-1)*50.8;};
  axes(g,{x0:o.x0,y0:o.y0,yTop:o.yTop,xEnd:o.xEnd,x:function(i){return xDay(i);},y:o.y,xTicks:[0,1,2],xLabels:days,yTicks:o.yTicks,yLabels:o.yLabels,yLabelRight:o.labR,xLabelY:o.dayY});
  o.boxes.forEach(function(dayBoxes,d){
    dayBoxes.forEach(function(b,k){
      const x=xGroup(d,k),w=o.boxW;
      line(g,x,o.y(b[0]),x,o.y(b[4]),'#333',3,'whisker');
      line(g,x-6.5,o.y(b[0]),x+6.5,o.y(b[0]),'#333',4,'whisker-cap');
      line(g,x-6.5,o.y(b[4]),x+6.5,o.y(b[4]),'#333',4,'whisker-cap');
      mk(g,'rect',{x:x-w/2,y:o.y(b[3]),width:w,height:o.y(b[1])-o.y(b[3]),fill:groupFill[k],stroke:'#111','stroke-width':3.5},'box');
      line(g,x-w/2,o.y(b[2]),x+w/2,o.y(b[2]),'#111',3.5,'median');
      o.out[d][k].forEach(function(v){
        mk(g,'rect',{x:x-2.5,y:o.y(v)-2.5,width:5,height:5,fill:groupDot[k]},'outlier');
      });
    });
  });
  o.sig.forEach(function(s){
    const a=xGroup(s[0],s[1])+(o.gap&&s[1]>0?5:0),b=xGroup(s[0],s[2])-(o.gap&&s[1]===0?5:0),yy=o.y(s[3]);
    line(g,a,yy,b,yy,'#111',4,'significance-bar');
    label(g,(a+b)/2,yy+3,s[4],'middle',25,'significance-stars');
  });
}
boxPanel({name:'panel-d',x0:974,y0:1318.3,yTop:1008,xEnd:1584,xStart:1075.5,boxW:25,y:function(v){return 1318.3-641*(v-.5);},yTicks:areaYTicks,yLabels:areaYLabels,labR:967,dayY:1352,boxes:areaBoxes,out:areaOut,sig:areaSig,gap:true});
boxPanel({name:'panel-e',x0:171,y0:1750.7,yTop:1441,xEnd:782,xStart:272,boxW:25,y:function(v){return 1750.7-6160*v;},yTicks:upYTicks,yLabels:upYLabels,labR:163,dayY:1784,boxes:upBoxes,out:upOut,sig:upSig,gap:false});
boxPanel({name:'panel-f',x0:974,y0:1750.7,yTop:1441,xEnd:1584,xStart:1075.5,boxW:27,y:function(v){return 1697.3-18170*(v-.005);},yTicks:relaxYTicks,yLabels:relaxYLabels,labR:966,dayY:1784,boxes:relaxBoxes,out:relaxOut,sig:relaxSig,gap:false});
</script>
</body>
</html>
